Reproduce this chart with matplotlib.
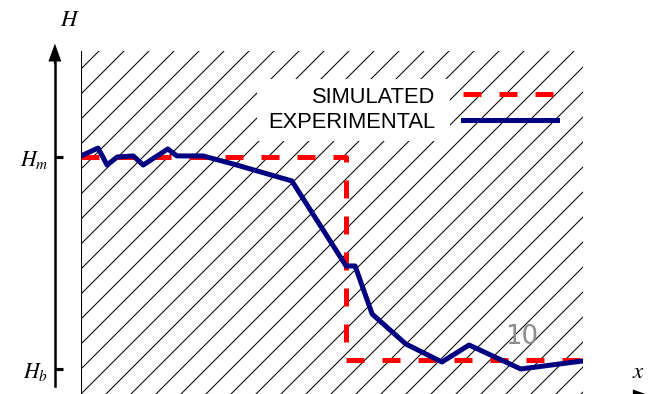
import matplotlib.pyplot as plt
from matplotlib.patches import Rectangle

# simulated step profile (x in % of the hatched width, H scaled so Hb=0, Hm=1)
sim_x = [0, 52.8, 52.8, 100]
sim_h = [1.0, 1.0, 0.042, 0.042]

# experimental profile
exp_x = [0, 3.4, 5.2, 7.2, 10.4, 12.4, 17.3, 19.1, 24.3, 30.3, 42.0,
         52.8, 54.6, 58.0, 64.7, 71.9, 77.3, 87.6, 100]
exp_h = [1.005, 1.042, 0.962, 1.0, 1.005, 0.962, 1.038, 1.005, 1.005, 0.967, 0.887,
         0.486, 0.486, 0.259, 0.118, 0.033, 0.113, 0.0, 0.038]

tick_pos = [0, 1]
tick_labels = ['$H_b$', '$H_m$']

plt.rcParams['mathtext.fontset'] = 'stix'
plt.rcParams['hatch.linewidth'] = 0.5

fig = plt.figure(figsize=(4.32, 2.6333), dpi=150)
ax = fig.add_axes([0.125, 0, 0.7747, 0.8684])
ax.set_xlim(0, 100)
ax.set_ylim(-0.118, 1.5)

# hatched background and left wall
ax.add_patch(Rectangle((0, -0.118), 100, 1.618, facecolor='white', edgecolor='black',
                       lw=0, hatch='//', zorder=0))
ax.axvline(0, color='black', lw=1.0, zorder=1)
# blank area behind the legend text
ax.add_patch(Rectangle((257/648, 1-142/395), 193/648, 62/395, transform=fig.transFigure,
                       facecolor='white', edgecolor='none', zorder=1.5))

ax.plot(sim_x, sim_h, color='red', lw=2.4, dashes=(3.6, 3.6), label='SIMULATED', zorder=3)
ax.plot(exp_x, exp_h, color='#000080', lw=2.4, label='EXPERIMENTAL', zorder=4)

for s in ['top', 'right', 'bottom']:
    ax.spines[s].set_visible(False)
ax.spines['left'].set_position(('data', -5.2))
ax.spines['left'].set_bounds(-0.08, 1.45)
ax.spines['left'].set_linewidth(1.2)
ax.set_xticks([])
ax.set_yticks(tick_pos, tick_labels)
ax.tick_params(axis='y', direction='in', length=3.8, width=1.5, pad=3, labelsize=10.5)

# axis arrows
arr = dict(facecolor='black', edgecolor='none', width=1.0, headwidth=6.2, headlength=8.6, shrink=0)
ax.annotate('', xy=(-5.2, 1.535), xytext=(-5.2, 1.44), arrowprops=arr, annotation_clip=False)
ax.annotate('', xy=(113.5, -0.127), xytext=(-5.2, -0.127), arrowprops=arr, annotation_clip=False)

fig.text(70/648, 1-20/395, '$H$', fontsize=11, ha='center', va='center')
fig.text(632/648, 1-372/395, '$x$', fontsize=11, ha='left', va='center')
fig.text(522/648, 1-337/395, '10', color='#8c8c8c', fontsize=12.5, ha='center', va='center',
         family='DejaVu Sans')

ax.legend(loc='upper right', bbox_to_anchor=(557/648, 1-87/395), bbox_transform=fig.transFigure,
          frameon=False, markerfirst=False, handlelength=4.3, handletextpad=1.24,
          prop={'family': 'Liberation Sans', 'size': 10.5}, labelspacing=0.2,
          borderaxespad=0, borderpad=0)

fig.savefig('out.png', dpi=150)
